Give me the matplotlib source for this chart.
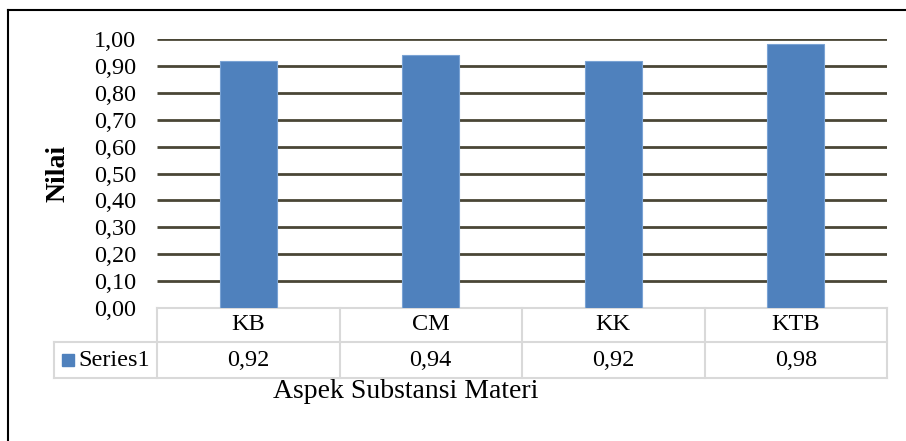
"""Bar chart with Excel-style data table: Aspek Substansi Materi."""

import matplotlib
matplotlib.use("Agg")
import matplotlib.pyplot as plt
from matplotlib.lines import Line2D
from matplotlib.patches import Rectangle
from matplotlib.transforms import blended_transform_factory

categories = ["KB", "CM", "KK", "KTB"]
values = [0.92, 0.94, 0.92, 0.98]
series_name = "Series1"
y_ticks = [0.0, 0.1, 0.2, 0.3, 0.4, 0.5, 0.6, 0.7, 0.8, 0.9, 1.0]

BAR_COLOR = "#4F81BD"
GRID_COLOR = "#4a4636"
TABLE_COLOR = "#d9d9d9"
FONT = "Liberation Serif"
FS = 17.5
FS_TITLE = 20

W, H = 906, 441


def fmt(v: float) -> str:
    return f"{v:.2f}".replace(".", ",")


def main() -> None:
    plt.rcParams["font.family"] = [FONT, "DejaVu Serif"]
    fig = plt.figure(figsize=(W / 100, H / 100), dpi=100)

    # outer chart border (left + top visible)
    fig.add_artist(Line2D([8 / W, 8 / W], [0, 1 - 10 / H], color="black", lw=1.5))
    fig.add_artist(Line2D([8 / W, 1], [1 - 10 / H, 1 - 10 / H], color="black", lw=1.5))

    left, right, top, bottom = 157, 887, 39, 308
    ax = fig.add_axes([left / W, 1 - bottom / H, (right - left) / W, (bottom - top) / H])
    x = list(range(len(categories)))
    ax.bar(x, values, width=0.31, color=BAR_COLOR, edgecolor="#7aa3d4", linewidth=0.8, zorder=3)
    ax.hlines([t for t in y_ticks if t > 0], -0.5, len(categories) - 0.5,
              color=GRID_COLOR, lw=2, zorder=1)
    ax.set_xlim(-0.5, len(categories) - 0.5)
    ax.set_ylim(0, 1.0)
    ax.set_yticks(y_ticks)
    ax.set_yticklabels([fmt(t) for t in y_ticks], fontsize=FS)
    ax.tick_params(axis="y", length=0, pad=15)
    ax.set_xticks([])
    for s in ax.spines.values():
        s.set_visible(False)

    fig.text(58 / W, 1 - 173 / H, "Nilai", rotation=90, ha="center", va="center",
             fontsize=FS_TITLE, fontweight="bold")

    # data table under the plot
    trans = blended_transform_factory(ax.transData, ax.transAxes)
    axh = bottom - top
    r1 = -34 / axh
    r2 = -70 / axh
    legend_left = -0.5 - (left - 54) / 182.5
    n = len(categories)
    kw = dict(color=TABLE_COLOR, lw=1.5, transform=trans, clip_on=False, zorder=2)
    ax.add_line(Line2D([-0.5, n - 0.5], [0, 0], **kw))
    ax.add_line(Line2D([legend_left, n - 0.5], [r1, r1], **kw))
    ax.add_line(Line2D([legend_left, n - 0.5], [r2, r2], **kw))
    ax.add_line(Line2D([legend_left, legend_left], [r1, r2], **kw))
    for i in range(n + 1):
        xb = i - 0.5
        ax.add_line(Line2D([xb, xb], [0, r2], **kw))
    for i, (cat, val) in enumerate(zip(categories, values)):
        ax.text(i, r1 / 2, cat, transform=trans, ha="center", va="center", fontsize=FS)
        ax.text(i, (r1 + r2) / 2, fmt(val), transform=trans, ha="center", va="center", fontsize=FS)

    # legend key in table
    sq = 12 / 182.5
    ax.add_patch(Rectangle((legend_left + 8 / 182.5, (r1 + r2) / 2 - 6 / axh), sq, 12 / axh,
                           transform=trans, clip_on=False, color=BAR_COLOR))
    ax.text(legend_left + 24 / 182.5, (r1 + r2) / 2, series_name, transform=trans,
            ha="left", va="center", fontsize=FS)

    fig.text(406 / W, 1 - 392 / H, "Aspek Substansi Materi", ha="center", va="center",
             fontsize=FS_TITLE)

    fig.savefig("out.png", dpi=100)


if __name__ == "__main__":
    main()
